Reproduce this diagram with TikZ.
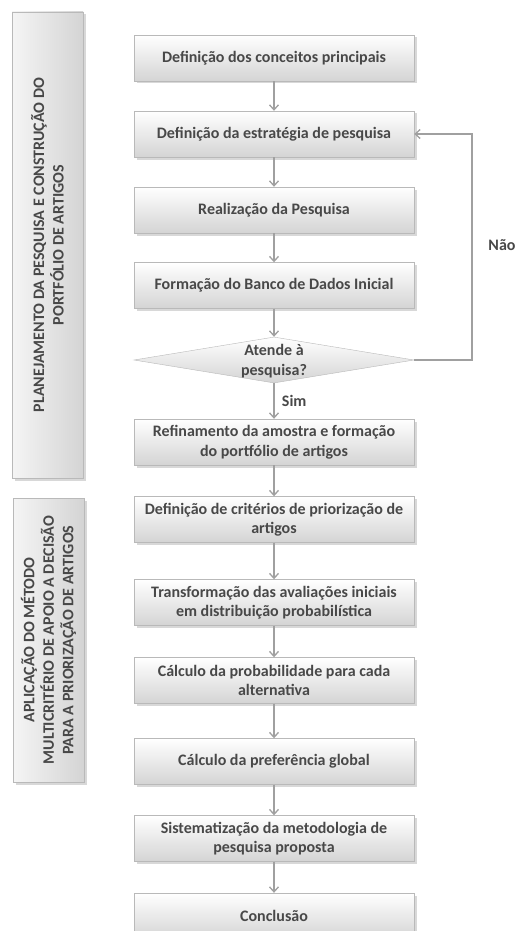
\documentclass[tikz,border=0pt]{standalone}
\usepackage{fontspec}
\setmainfont{Carlito}
\usepackage{tikz}
\usetikzlibrary{shapes.geometric, shadows, arrows.meta}

\definecolor{texto}{RGB}{72,72,72}
\definecolor{borda}{RGB}{185,185,185}
\definecolor{seta}{RGB}{160,160,160}
\definecolor{fundo}{RGB}{212,212,212}

\begin{document}
\begin{tikzpicture}[x=1pt, y=-1pt,
  etapa/.style={rectangle, draw=borda, top color=white, bottom color=fundo,
    minimum width=280pt, minimum height=46pt, inner sep=2pt, align=center,
    text=texto, font=\fontsize{16}{19.5}\selectfont\bfseries,
    drop shadow={shadow xshift=2.5pt, shadow yshift=-2.5pt, fill=black!30}},
  decisao/.style={diamond, draw=borda, top color=white, bottom color=fundo,
    minimum width=280pt, minimum height=46pt, inner sep=0pt},
  painel/.style={rectangle, draw=borda, left color=white!96!black, right color=fundo,
    minimum width=71pt,
    drop shadow={shadow xshift=2.5pt, shadow yshift=-2.5pt, fill=black!30}},
  rotulo/.style={text=texto, font=\fontsize{16}{19.5}\selectfont\bfseries},
  fluxo/.style={draw=seta, line width=1.3pt, -{Straight Barb[length=5pt, width=9pt]}}]

\useasboundingbox (0,0) rectangle (526,931);
\fill[white] (0,0) rectangle (526,931);
\clip (0,0) rectangle (526,931);

% paineis laterais
\node[painel, minimum height=466pt] (p1) at (47.5,245) {};
\node[rotulo, rotate=90, align=center] (t1) at (p1)
  {PLANEJAMENTO DA PESQUISA E CONSTRUÇÃO DO\\PORTFÓLIO DE ARTIGOS};
\node[painel, minimum height=284pt] (p2) at (48.5,640) {};
\node[rotulo, rotate=90, align=center] (t2) at (p2)
  {APLICAÇÃO DO MÉTODO\\MULTICRITÉRIO DE APOIO A DECISÃO\\PARA A PRIORIZAÇÃO DE ARTIGOS};

% etapas
\node[etapa] (b1) at (274,58) {Definição dos conceitos principais};
\node[etapa] (b2) at (274,134) {Definição da estratégia de pesquisa};
\node[etapa] (b3) at (274,210) {Realização da Pesquisa};
\node[etapa] (b4) at (274,285.5) {Formação do Banco de Dados Inicial};
\node[decisao] (dec) at (274,360) {};
\node[rotulo, align=center] (pergunta) at (274,361) {Atende à\\pesquisa?};
\node[etapa] (b6) at (274,442) {Refinamento da amostra e formação\\do portfólio de artigos};
\node[etapa] (b7) at (274,519.5) {Definição de critérios de priorização de\\artigos};
\node[etapa] (b8) at (274,602.5) {Transformação das avaliações iniciais\\em distribuição probabilística};
\node[etapa] (b9) at (274,680.5) {Cálculo da probabilidade para cada\\alternativa};
\node[etapa] (b10) at (274,761.5) {Cálculo da preferência global};
\node[etapa] (b11) at (274,838.5) {Sistematização da metodologia de\\pesquisa proposta};
\node[etapa] (b12) at (274,916) {Conclusão};

% conectores
\draw[fluxo] (b1) -- (b2);
\draw[fluxo] (b2) -- (b3);
\draw[fluxo] (b3) -- (b4);
\draw[fluxo] (b4) -- (dec);
\draw[fluxo] (dec) -- (b6) node[rotulo, midway, right, xshift=4pt] (sim) {Sim};
\draw[fluxo] (b6) -- (b7);
\draw[fluxo] (b7) -- (b8);
\draw[fluxo] (b8) -- (b9);
\draw[fluxo] (b9) -- (b10);
\draw[fluxo] (b10) -- (b11);
\draw[fluxo] (b11) -- (b12);

\coordinate (volta) at (472,360);
\draw[fluxo] (dec.east) -- (volta) |- (b2.east);
\node[rotulo] (nao) at (502,245) {Não};

\end{tikzpicture}
\end{document}
